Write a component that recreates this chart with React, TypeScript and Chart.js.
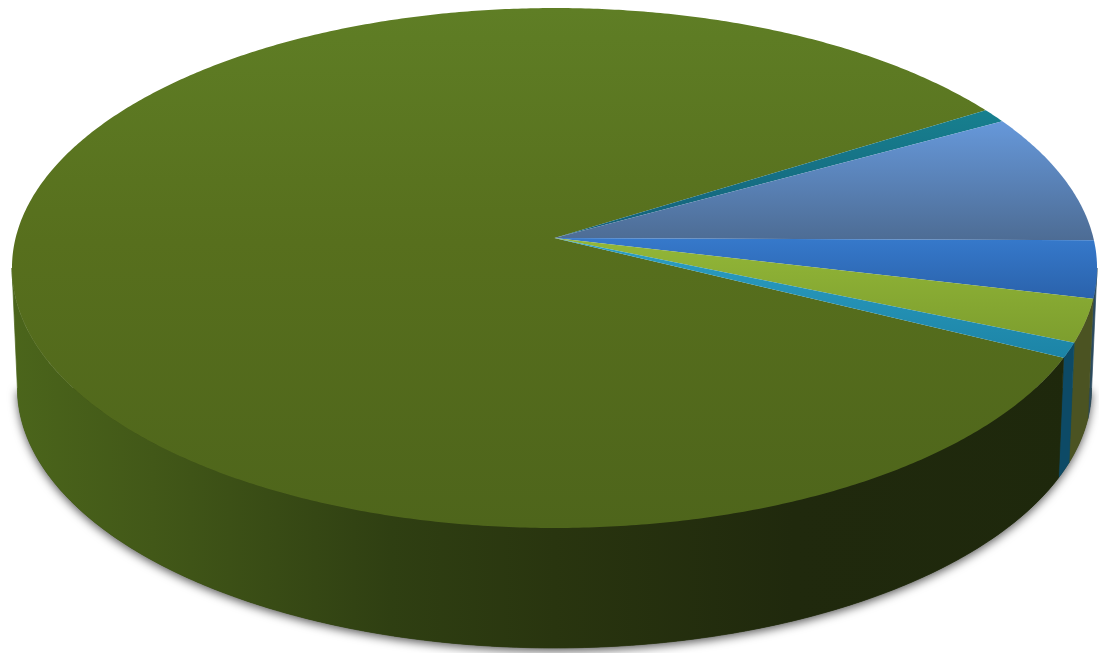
import React, { useEffect, useRef } from "react";
import { Chart, registerables } from "chart.js";

Chart.register(...registerables);

// Share of each slice, clockwise from the thin teal sliver
const categories = ["A", "B", "C", "D", "E", "F"];
const values = [0.89, 8.11, 3.56, 2.67, 0.94, 83.83];
const firstSliceRotation = 58.1;

const topFill = ["#17808f", "#6698da", "#3679cb", "#93b738", "#2d9fc4", "#5f7e25"];
const midFill = [null, null, null, null, null, "#576f1d"];
const bottomFill = ["#14607a", "#4d6c94", "#2a62ab", "#7d9e2e", "#1c84a6", "#4e651b"];
const wallFill = ["#0d4a66", "#2b4a5e", "#2b4a5e", "#4b5322", "#0d4a66", null];

const W = 1099;
const H = 653;
const CX = 554.5;
const APEX_Y = 238;
const K = -0.1154;
const A = 256.5;
const C = 538.9;
const DEPTH = 120;
const BOTTOM_SCALE = 0.99;
const RIM = Math.atan2(-K, Math.sqrt(1 - K * K));

const project = (t: number): [number, number] => {
  const X = Math.cos(t);
  const Y = Math.sin(t);
  const w = 1 + K * Y;
  return [CX + (C * X) / w, APEX_Y + (A * Y) / w];
};
const lower = (p: [number, number]): [number, number] => [
  CX + (p[0] - CX) * BOTTOM_SCALE,
  p[1] + DEPTH,
];

const sample = (a: number, b: number) => {
  const pts: number[] = [];
  const n = Math.max(2, Math.ceil((b - a) / (Math.PI / 360)));
  for (let i = 0; i <= n; i++) pts.push(a + ((b - a) * i) / n);
  return pts;
};

const greenWall = (ctx: CanvasRenderingContext2D) => {
  const g = ctx.createLinearGradient(12, 0, 1097, 0);
  g.addColorStop(0, "#4b651b");
  g.addColorStop(0.13, "#425818");
  g.addColorStop(0.35, "#2f3f12");
  g.addColorStop(0.5, "#29350f");
  g.addColorStop(0.72, "#20290d");
  g.addColorStop(1, "#1e280c");
  return g;
};

const solidPie = {
  id: "solidPie",
  beforeDatasetsDraw(chart: any) {
    const ctx: CanvasRenderingContext2D = chart.ctx;
    const arcs = chart.getDatasetMeta(0).data;
    const rimA = RIM;
    const rimB = Math.PI - RIM;

    // soft shadow under the solid
    ctx.save();
    ctx.shadowColor = "rgba(0,0,0,0.65)";
    ctx.shadowBlur = 10;
    ctx.shadowOffsetY = 3;
    ctx.fillStyle = "#2a350f";
    ctx.beginPath();
    sample(rimA, rimB).forEach((t, i) => {
      const p = lower(project(t));
      if (i === 0) ctx.moveTo(p[0], p[1]);
      else ctx.lineTo(p[0], p[1]);
    });
    ctx.closePath();
    ctx.fill();
    ctx.restore();

    // side wall
    arcs.forEach((arc: any, i: number) => {
      const ranges = [0, 2 * Math.PI].map((o) => [
        Math.max(arc.startAngle + o, rimA),
        Math.min(arc.endAngle + o, rimB),
      ]);
      ranges.forEach(([a, b]) => {
        if (b <= a) return;
        const ts = sample(a, b);
        ctx.beginPath();
        ts.forEach((t, j) => {
          const p = project(t);
          if (j === 0) ctx.moveTo(p[0], p[1]);
          else ctx.lineTo(p[0], p[1]);
        });
        [...ts].reverse().forEach((t) => {
          const p = lower(project(t));
          ctx.lineTo(p[0], p[1]);
        });
        ctx.closePath();
        const fill = wallFill[i] ?? greenWall(ctx);
        ctx.fillStyle = fill;
        ctx.strokeStyle = fill;
        ctx.lineWidth = 0.7;
        ctx.fill();
        ctx.stroke();
      });
    });

    // top face
    const order = [5, 0, 1, 2, 3, 4];
    order.forEach((i) => {
      const arc = arcs[i];
      const ts = sample(arc.startAngle, arc.endAngle);
      const pts = ts.map(project);
      const ys = pts.map((p) => p[1]).concat(APEX_Y);
      const g = ctx.createLinearGradient(0, Math.min(...ys), 0, Math.max(...ys));
      g.addColorStop(0, topFill[i]);
      if (midFill[i]) g.addColorStop(0.45, midFill[i] as string);
      g.addColorStop(1, bottomFill[i]);
      ctx.beginPath();
      ctx.moveTo(CX, APEX_Y);
      pts.forEach((p) => ctx.lineTo(p[0], p[1]));
      ctx.closePath();
      ctx.fillStyle = g;
      ctx.fill();
    });
    return false;
  },
};

export default function App() {
  const ref = useRef<HTMLCanvasElement>(null);
  useEffect(() => {
    document.body.style.margin = "0";
    document.body.style.background = "#ffffff";
    const chart = new Chart(ref.current as HTMLCanvasElement, {
      type: "pie",
      data: {
        labels: categories,
        datasets: [{ data: values, backgroundColor: topFill, borderWidth: 0 }],
      },
      options: {
        responsive: false,
        animation: false,
        devicePixelRatio: 1,
        rotation: firstSliceRotation,
        plugins: { legend: { display: false }, tooltip: { enabled: false } },
      } as any,
      plugins: [solidPie as any],
    });
    return () => chart.destroy();
  }, []);
  return (
    <div style={{ width: W, height: H, overflow: "hidden" }}>
      <canvas ref={ref} width={W} height={H} style={{ display: "block", filter: "blur(0.5px)" }} />
    </div>
  );
}
